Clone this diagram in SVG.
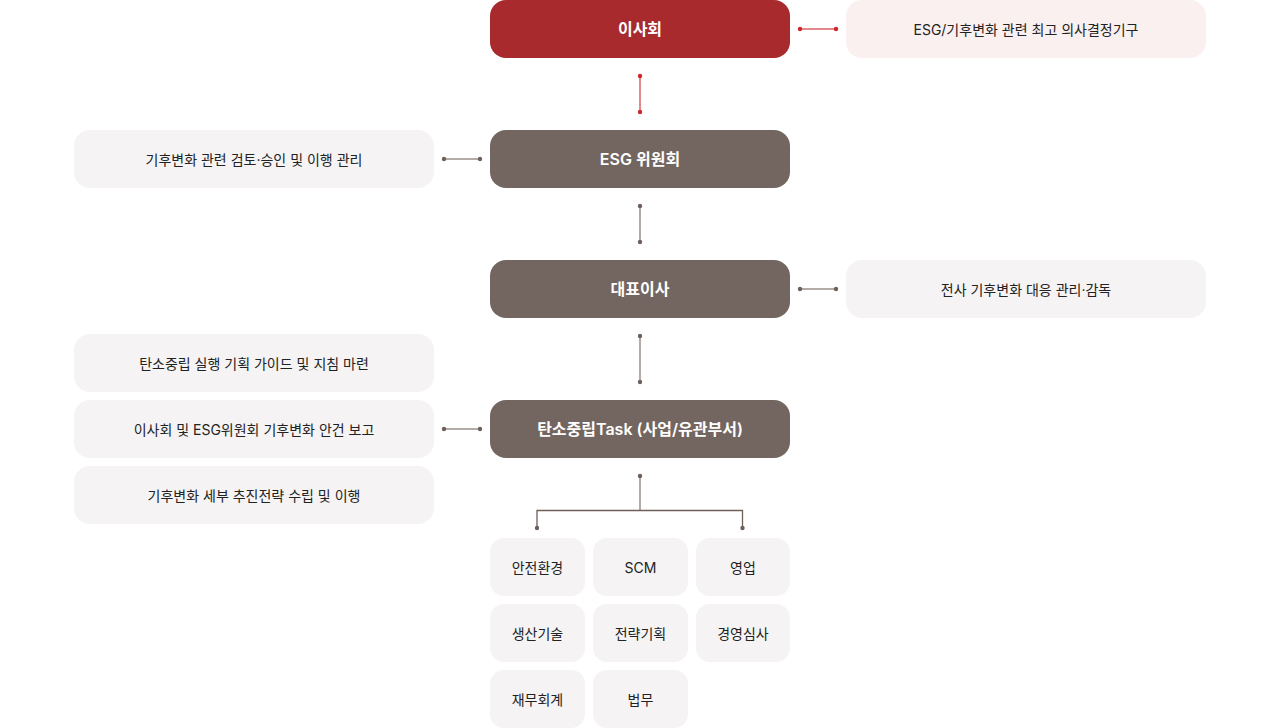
<svg xmlns="http://www.w3.org/2000/svg" width="1280" height="728" viewBox="0 0 1280 728">
<style>
text{font-family:Inter,"Noto Sans CJK KR",sans-serif;text-anchor:middle;dominant-baseline:central}
.main{fill:#736661}.red{fill:#a82a2c}.mt{fill:#fff;font-size:16px;font-weight:600}
.box{fill:#f5f3f3}.pbox{fill:#faf0f0}.bt{fill:#222;font-size:14px}
.gl{stroke:#b3aba7;stroke-width:2;fill:none}.rl{stroke:#e58a8c;stroke-width:2;fill:none}
.dl{stroke:#6e5f5a;stroke-width:1.3;fill:none}
.gd{fill:#6e5f5a}.rd{fill:#d0252b}
</style>
<g id="connectors">
<line class="rl" x1="640" y1="76" x2="640" y2="112"/><circle class="rd" cx="640" cy="76" r="2.2"/><circle class="rd" cx="640" cy="112" r="2.2"/>
<line class="rl" x1="800" y1="29" x2="836" y2="29"/><circle class="rd" cx="800" cy="29" r="2.2"/><circle class="rd" cx="836" cy="29" r="2.2"/>
<line class="gl" x1="444" y1="159" x2="480" y2="159"/><circle class="gd" cx="444" cy="159" r="2.2"/><circle class="gd" cx="480" cy="159" r="2.2"/>
<line class="gl" x1="640" y1="206" x2="640" y2="242"/><circle class="gd" cx="640" cy="206" r="2.2"/><circle class="gd" cx="640" cy="242" r="2.2"/>
<line class="gl" x1="800" y1="289" x2="836" y2="289"/><circle class="gd" cx="800" cy="289" r="2.2"/><circle class="gd" cx="836" cy="289" r="2.2"/>
<line class="gl" x1="640" y1="336" x2="640" y2="382"/><circle class="gd" cx="640" cy="336" r="2.2"/><circle class="gd" cx="640" cy="382" r="2.2"/>
<line class="gl" x1="444" y1="429" x2="480" y2="429"/><circle class="gd" cx="444" cy="429" r="2.2"/><circle class="gd" cx="480" cy="429" r="2.2"/>
<line class="gl" x1="640" y1="476" x2="640" y2="510"/><circle class="gd" cx="640" cy="476" r="2.2"/>
<path class="dl" d="M537 528V510.5H742.5V528"/><circle class="gd" cx="537" cy="528" r="2.2"/><circle class="gd" cx="742.5" cy="528" r="2.2"/>
</g>
<g id="n1"><rect class="red" x="490" y="0" width="300" height="58" rx="16"/><text class="mt" x="640" y="29">이사회</text></g>
<g id="n2"><rect class="main" x="490" y="130" width="300" height="58" rx="16"/><text class="mt" x="640" y="159">ESG 위원회</text></g>
<g id="n3"><rect class="main" x="490" y="260" width="300" height="58" rx="16"/><text class="mt" x="640" y="289">대표이사</text></g>
<g id="n4"><rect class="main" x="490" y="400" width="300" height="58" rx="16"/><text class="mt" x="640" y="429">탄소중립Task (사업/유관부서)</text></g>
<g id="r1"><rect class="pbox" x="846" y="0" width="360" height="58" rx="16"/><text class="bt" x="1026" y="29">ESG/기후변화 관련 최고 의사결정기구</text></g>
<g id="r2"><rect class="box" x="846" y="260" width="360" height="58" rx="16"/><text class="bt" x="1026" y="289">전사 기후변화 대응 관리·감독</text></g>
<g id="l1"><rect class="box" x="74" y="130" width="360" height="58" rx="16"/><text class="bt" x="254" y="159">기후변화 관련 검토·승인 및 이행 관리</text></g>
<g id="l2"><rect class="box" x="74" y="334" width="360" height="58" rx="16"/><text class="bt" x="254" y="363">탄소중립 실행 기획 가이드 및 지침 마련</text></g>
<g id="l3"><rect class="box" x="74" y="400" width="360" height="58" rx="16"/><text class="bt" x="254" y="429">이사회 및 ESG위원회 기후변화 안건 보고</text></g>
<g id="l4"><rect class="box" x="74" y="466" width="360" height="58" rx="16"/><text class="bt" x="254" y="495">기후변화 세부 추진전략 수립 및 이행</text></g>
<g id="d1"><rect class="box" x="490" y="538" width="95" height="58" rx="14"/><text class="bt" x="537.5" y="567">안전환경</text></g>
<g id="d2"><rect class="box" x="593" y="538" width="95" height="58" rx="14"/><text class="bt" x="640.5" y="567">SCM</text></g>
<g id="d3"><rect class="box" x="696" y="538" width="94" height="58" rx="14"/><text class="bt" x="743" y="567">영업</text></g>
<g id="d4"><rect class="box" x="490" y="604" width="95" height="58" rx="14"/><text class="bt" x="537.5" y="633">생산기술</text></g>
<g id="d5"><rect class="box" x="593" y="604" width="95" height="58" rx="14"/><text class="bt" x="640.5" y="633">전략기획</text></g>
<g id="d6"><rect class="box" x="696" y="604" width="94" height="58" rx="14"/><text class="bt" x="743" y="633">경영심사</text></g>
<g id="d7"><rect class="box" x="490" y="670" width="95" height="58" rx="14"/><text class="bt" x="537.5" y="699">재무회계</text></g>
<g id="d8"><rect class="box" x="593" y="670" width="95" height="58" rx="14"/><text class="bt" x="640.5" y="699">법무</text></g>
</svg>
